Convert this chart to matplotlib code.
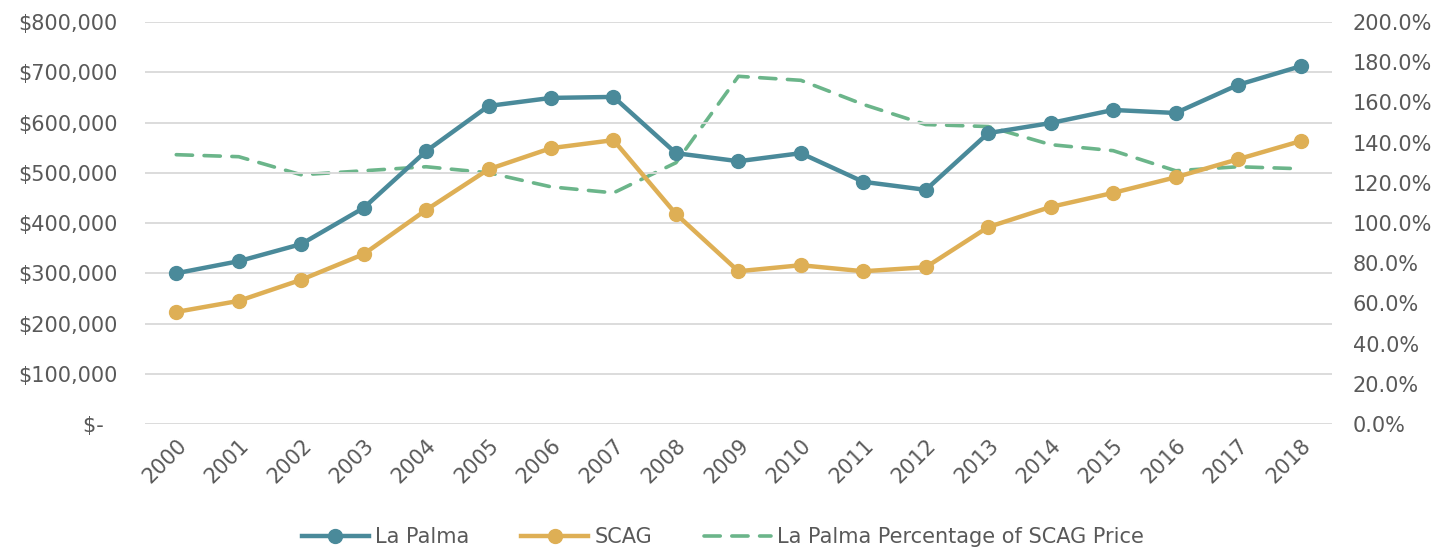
import matplotlib
matplotlib.use("Agg")
import matplotlib.pyplot as plt
from matplotlib.ticker import FuncFormatter

# values
years = [str(y) for y in range(2000, 2019)]
la_palma = [300000, 324000, 358000, 430000, 543000, 633000, 649000, 651000, 539000, 523000,
            539000, 482000, 466000, 579000, 599000, 625000, 619000, 675000, 712000]
scag = [223000, 245000, 287000, 338000, 426000, 507000, 549000, 565000, 418000, 304000,
        316000, 304000, 312000, 392000, 432000, 460000, 491000, 527000, 563000]
pct_of_scag = [1.34, 1.33, 1.24, 1.26, 1.28, 1.25, 1.18, 1.15, 1.30, 1.73,
               1.71, 1.59, 1.49, 1.48, 1.39, 1.36, 1.26, 1.28, 1.27]

teal = '#4A8A9A'
gold = '#DEAF55'
green = '#6BB58A'
txt = '#595959'

plt.rcParams['font.family'] = ['DejaVu Sans']

fig = plt.figure(figsize=(14.46, 5.51), dpi=100)
ax = fig.add_axes([0.1003, 0.2305, 0.8207, 0.7295])
ax2 = ax.twinx()

x = list(range(len(years)))
l1, = ax.plot(x, la_palma, color=teal, lw=3.2, marker='o', ms=10, label='La Palma', zorder=3)
l2, = ax.plot(x, scag, color=gold, lw=3.2, marker='o', ms=10, label='SCAG', zorder=3)
l3, = ax2.plot(x, pct_of_scag, color=green, lw=2.6, ls=(0, (4.5, 3.2)),
               dash_capstyle='round', label='La Palma Percentage of SCAG Price')

ax.set_xlim(-0.5, len(years) - 0.5)
ax.set_ylim(0, 800000)
ax.set_yticks(range(0, 800001, 100000))
ax.yaxis.set_major_formatter(FuncFormatter(lambda v, p: '$-  ' if v == 0 else f'${v:,.0f}'))
ax2.set_ylim(0, 2.0)
ax2.set_yticks([i * 0.2 for i in range(11)])
ax2.yaxis.set_major_formatter(FuncFormatter(lambda v, p: f'{v * 100:.1f}%'))

ax.set_xticks(x)
ax.set_xticklabels(years, rotation=45, ha='right', rotation_mode='anchor')

ax.grid(axis='y', color='#D9D9D9', lw=1.3)
ax.set_axisbelow(True)
for a in (ax, ax2):
    for s in a.spines.values():
        s.set_visible(False)
    a.tick_params(length=0, labelsize=15, colors=txt)
ax.tick_params(axis='y', pad=20, labelsize=15)
ax.tick_params(axis='x', pad=8)
ax2.tick_params(axis='y', pad=15)

ax.set_zorder(ax2.get_zorder() + 1)
ax.patch.set_visible(False)

fig.legend(handles=[l1, l2, l3], loc='center', bbox_to_anchor=(0.5, 0.025), ncol=3,
           frameon=False, fontsize=15, labelcolor=txt, handlelength=3.2,
           handletextpad=0.3, columnspacing=2.5)

fig.savefig('out.png', dpi=100)
